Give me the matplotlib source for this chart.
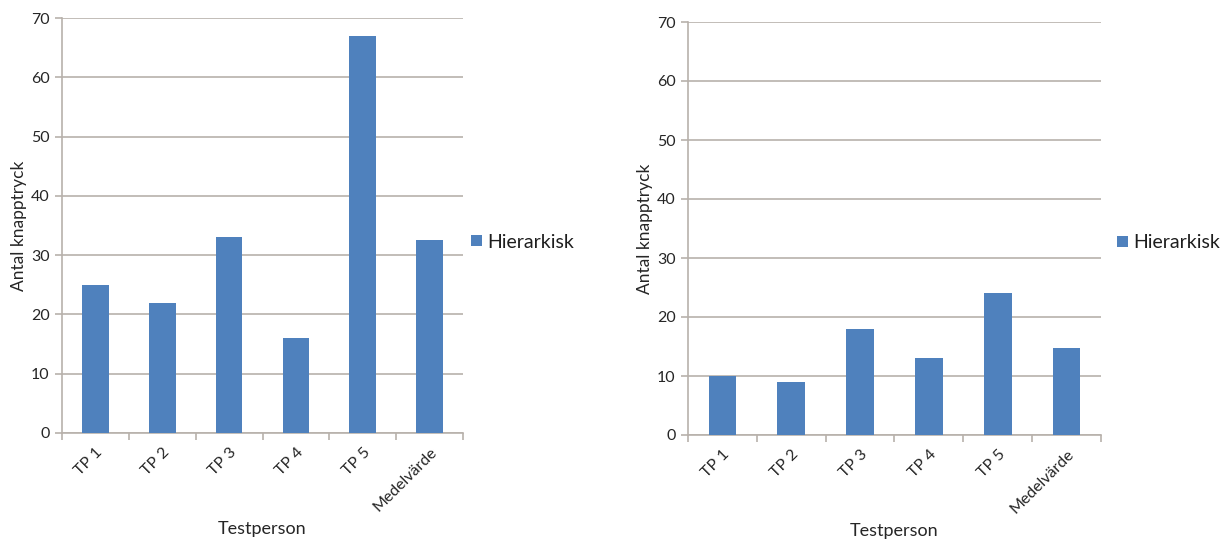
import matplotlib
matplotlib.use("Agg")
import matplotlib.pyplot as plt
import numpy as np

categories = ["TP 1", "TP 2", "TP 3", "TP 4", "TP 5", "Medelvärde"]
left_values = [25, 22, 33, 16, 67, 32.6]
right_values = [10, 9, 18, 13, 24, 14.8]
series_name = "Hierarkisk"
y_ticks = [0, 10, 20, 30, 40, 50, 60, 70]

BAR = "#4F81BD"
GRID = "#B8B1AB"
TEXT = "#262626"

plt.rcParams["font.family"] = ["Lato", "DejaVu Sans"]

W, H = 1229, 546
fig = plt.figure(figsize=(W / 100, H / 100), dpi=100)


def px_axes(x0, y0, x1, y1):
    return fig.add_axes([x0 / W, 1 - y1 / H, (x1 - x0) / W, (y1 - y0) / H])


def draw(ax, values, legend_xy, xlabel_y):
    x = np.arange(len(categories))
    ax.bar(x, values, width=0.4, color=BAR, label=series_name, zorder=3)
    ax.set_xlim(-0.5, len(categories) - 0.5)
    ax.set_ylim(0, 70)
    ax.set_yticks(y_ticks)
    ax.yaxis.grid(True, color=GRID, linewidth=1.2, zorder=0)
    ax.set_axisbelow(True)
    for s in ("top", "right"):
        ax.spines[s].set_visible(False)
    for s in ("left", "bottom"):
        ax.spines[s].set_color(GRID)
        ax.spines[s].set_linewidth(1.2)
    # category ticks sit on the boundaries between bars
    ax.set_xticks(np.arange(len(categories) + 1) - 0.5, minor=False)
    ax.set_xticklabels([])
    ax.set_xticks(x, minor=True)
    ax.set_xticklabels(categories, minor=True, rotation=45, ha="right",
                       rotation_mode="anchor", fontsize=11.5, color=TEXT)
    ax.tick_params(axis="x", which="major", length=5, color=GRID, width=1.2)
    ax.tick_params(axis="x", which="minor", length=0, pad=9)
    ax.tick_params(axis="y", length=5, color=GRID, width=1.2,
                   labelsize=11.5, labelcolor=TEXT, pad=4)
    ax.set_ylabel("Antal knapptryck", fontsize=12.5, color=TEXT, labelpad=3)
    ax.set_xlabel("Testperson", fontsize=13, color=TEXT)
    ax.xaxis.set_label_coords(0.5, -(xlabel_y) / ax.bbox.height)
    leg = ax.legend(loc="center left", bbox_to_anchor=(legend_xy[0] / W, 1 - legend_xy[1] / H),
                    bbox_transform=fig.transFigure, frameon=False, fontsize=14,
                    handlelength=0.55, handleheight=0.55, handletextpad=0.3,
                    borderpad=0, borderaxespad=0)
    for t in leg.get_texts():
        t.set_color("#1E1E1E")


ax1 = px_axes(62, 18, 463, 433)
draw(ax1, left_values, (471, 242), 88)

ax2 = px_axes(688, 22, 1101, 435)
draw(ax2, right_values, (1117, 243), 88)

fig.savefig("out.png", dpi=100, facecolor="white")
